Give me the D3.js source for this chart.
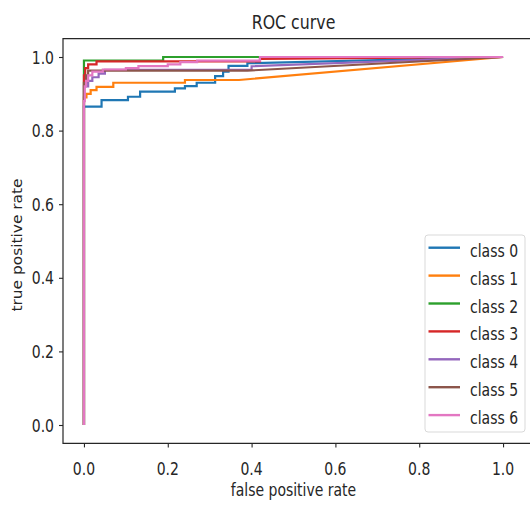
<!DOCTYPE html>
<html>
<head>
<meta charset="utf-8">
<script src="https://cdnjs.cloudflare.com/ajax/libs/d3/7.8.5/d3.min.js"></script>
<style>
  body { margin: 0; background: #fff; }
  text { font-family: "DejaVu Sans", sans-serif; fill: #262626; }
</style>
</head>
<body>
<script>
// ROC curve, one stepped line per class (fpr / tpr pairs)
const classes = ["class 0", "class 1", "class 2", "class 3", "class 4", "class 5", "class 6"];
const colors = ["#1f77b4", "#ff7f0e", "#2ca02c", "#d62728", "#9467bd", "#8c564b", "#e377c2"];

const fpr0 = [0, 0, 0.042, 0.042, 0.105, 0.105, 0.134, 0.134, 0.217, 0.217, 0.241, 0.241, 0.269, 0.269, 0.313, 0.313, 0.332, 0.332, 0.345, 0.345, 0.39, 0.39, 1];
const tpr0 = [0, 0.865, 0.865, 0.883, 0.883, 0.892, 0.892, 0.906, 0.906, 0.915, 0.915, 0.921, 0.921, 0.930, 0.930, 0.948, 0.948, 0.960, 0.960, 0.976, 0.976, 0.983, 1];

const fpr1 = [0, 0, 0.006, 0.006, 0.016, 0.016, 0.03, 0.03, 0.07, 0.07, 0.241, 0.241, 0.37, 1];
const tpr1 = [0, 0.89, 0.89, 0.90, 0.90, 0.91, 0.91, 0.919, 0.919, 0.930, 0.930, 0.9375, 0.9375, 1];

const fpr2 = [0, 0, 0.189, 0.189, 1];
const tpr2 = [0, 0.9905, 0.9905, 1, 1];

const fpr3 = [0, 0, 0.003, 0.003, 0.01, 0.01, 0.03, 0.03, 0.42, 0.42, 1];
const tpr3 = [0, 0.95, 0.95, 0.97, 0.97, 0.98, 0.98, 0.988, 0.988, 0.995, 1];

const fpr4 = [0, 0, 0.01, 0.01, 0.02, 0.02, 0.035, 0.035, 0.05, 0.05, 0.4, 0.4, 1];
const tpr4 = [0, 0.92, 0.92, 0.935, 0.935, 0.945, 0.945, 0.955, 0.955, 0.965, 0.965, 0.975, 1];

const fpr5 = [0, 0, 0.005, 0.005, 0.01, 0.01, 0.39, 1];
const tpr5 = [0, 0.93, 0.93, 0.95, 0.95, 0.963, 0.963, 1];

const fpr6 = [0, 0, 0.002, 0.002, 0.005, 0.005, 0.01, 0.01, 0.02, 0.02, 0.045, 0.045, 0.1, 0.1, 0.13, 0.13, 0.2, 0.2, 0.23, 0.23, 0.27, 0.27, 0.42, 0.42, 1];
const tpr6 = [0, 0.88, 0.88, 0.92, 0.92, 0.935, 0.935, 0.95, 0.95, 0.96, 0.96, 0.966, 0.966, 0.97, 0.97, 0.975, 0.975, 0.98, 0.98, 0.986, 0.986, 0.99, 0.99, 1, 1];

const fprs = [fpr0, fpr1, fpr2, fpr3, fpr4, fpr5, fpr6];
const tprs = [tpr0, tpr1, tpr2, tpr3, tpr4, tpr5, tpr6];
const ticks = [0, 0.2, 0.4, 0.6, 0.8, 1.0];

const width = 530, height = 506;
const mLeft = 63, mTop = 38.6, mRight = 524, mBottom = 443.4;
const sy = 1.25; // the picture is stretched a bit in height, text too

const svg = d3.select("body").append("svg")
    .attr("width", width)
    .attr("height", height);

const x = d3.scaleLinear().domain([-0.05, 1.05]).range([mLeft, mRight]);
const y = d3.scaleLinear().domain([-0.05, 1.05]).range([mBottom, mTop]);
const fmt = d3.format(".1f");

// text stretched vertically around its baseline
function label(px, py, str, size, anchor) {
    return svg.append("text")
        .attr("transform", "translate(" + px + "," + py + ") scale(1," + sy + ")")
        .attr("text-anchor", anchor || "middle")
        .style("font-size", size + "px")
        .text(str);
}

// curves
const line = d3.line()
    .x(function(d) { return x(d[0]); })
    .y(function(d) { return y(d[1]); });

classes.forEach(function(c, i) {
    const pts = fprs[i].map(function(f, j) { return [f, tprs[i][j]]; });
    svg.append("path")
        .attr("d", line(pts))
        .attr("fill", "none")
        .attr("stroke", colors[i])
        .attr("stroke-width", 2.2);
});

// axes: ticks from the scales, labels drawn stretched
const xAxis = svg.append("g")
    .attr("transform", "translate(0," + mBottom + ")")
    .call(d3.axisBottom(x).tickValues(ticks).tickFormat("").tickSize(4));
const yAxis = svg.append("g")
    .attr("transform", "translate(" + mLeft + ",0)")
    .call(d3.axisLeft(y).tickValues(ticks).tickFormat("").tickSize(4));

[xAxis, yAxis].forEach(function(a) {
    a.select(".domain").remove();
    a.selectAll(".tick line").attr("stroke", "#262626").attr("stroke-width", 1.1);
});

ticks.forEach(function(t) {
    label(x(t), 475, fmt(t), 14);
    label(mLeft - 9, y(t) + 6.5, fmt(t), 14, "end");
});

// frame (right side runs past the picture edge)
svg.append("path")
    .attr("d", "M" + (width + 5) + "," + mTop + "H" + mLeft + "V" + mBottom + "H" + (width + 5))
    .attr("fill", "none")
    .attr("stroke", "#262626")
    .attr("stroke-width", 1.2);

// titles
label((mLeft + mRight) / 2, 29, "ROC curve", 15.8);
label((mLeft + mRight) / 2, 496, "false positive rate", 14);

svg.append("text")
    .attr("transform", "translate(22," + ((mTop + mBottom) / 2 + 4) + ") rotate(-90) scale(" + 1.1 + ",1.05)")
    .attr("text-anchor", "middle")
    .style("font-size", "14px")
    .text("true positive rate");

// legend
const lg = svg.append("g").attr("transform", "translate(425,235)");
lg.append("rect")
    .attr("width", 100)
    .attr("height", 197)
    .attr("rx", 3)
    .attr("fill", "#fff")
    .attr("fill-opacity", 0.8)
    .attr("stroke", "#d9d9d9");

classes.forEach(function(c, i) {
    const ly = 12.7 + i * 27.9;
    lg.append("line")
        .attr("x1", 3.5).attr("x2", 35)
        .attr("y1", ly).attr("y2", ly)
        .attr("stroke", colors[i])
        .attr("stroke-width", 2.4);
    lg.append("text")
        .attr("transform", "translate(45," + (ly + 9) + ") scale(1," + sy + ")")
        .style("font-size", "14px")
        .text(c);
});
</script>
</body>
</html>
